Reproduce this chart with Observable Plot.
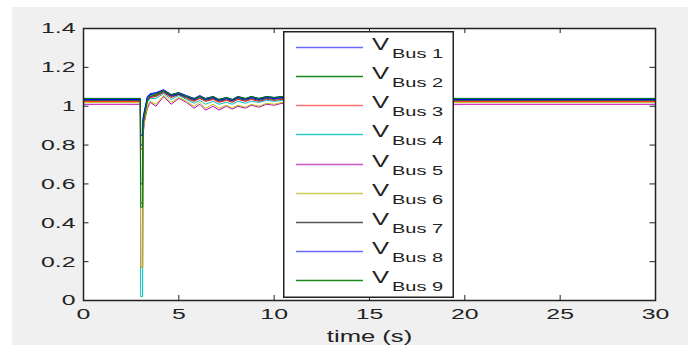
<!DOCTYPE html>
<html><head><meta charset="utf-8">
<script src="https://cdn.jsdelivr.net/npm/d3@7"></script>
<script src="https://cdn.jsdelivr.net/npm/@observablehq/plot@0.6"></script>
<style>
body{margin:0;background:#fff;}
#wrap{position:relative;width:688px;height:345px;overflow:hidden;}
#bg{position:absolute;left:12px;top:7px;right:0;bottom:0;background:#f0f0f0;}
#chart{position:absolute;left:0;top:0;}
#legend{position:absolute;left:283px;top:31px;}
</style></head><body>
<div id="wrap"><div id="bg"></div><div id="chart"></div><div id="legend"></div></div>
<script>
const buses = ["Bus 1","Bus 2","Bus 3","Bus 4","Bus 5","Bus 6","Bus 7","Bus 8","Bus 9"];
const colors = ["#0000ff","#008000","#ff0000","#00bfbf","#bf00bf","#bfbf00","#404040","#0000ff","#008000"];
const legendColors = ["#6a6aff","#1a8a1a","#ff7070","#2ccccc","#cc55cc","#cccc55","#555555","#6a6aff","#1a8a1a"];
const xTicks = [0,5,10,15,20,25,30];
const yTicks = [0,0.2,0.4,0.6,0.8,1,1.2,1.4];
const times = [0,2.98,3.0,3.1,3.12,3.2,3.35,3.5,3.8,4.2,4.6,5.0,5.4,5.8,6.1,6.4,6.8,7.1,7.5,7.8,8.1,8.5,8.8,9.2,9.6,10.0,10.4,11,12,30];
const bus1 = [1.04,1.04,0.80,0.80,0.93,0.97,1.05,1.065,1.07,1.085,1.06,1.07,1.055,1.04,1.055,1.04,1.05,1.035,1.045,1.035,1.05,1.04,1.05,1.04,1.05,1.045,1.05,1.04,1.04,1.04];
const bus2 = [1.035,1.035,0.50,0.50,0.90,0.96,1.03,1.05,1.06,1.075,1.055,1.065,1.05,1.035,1.05,1.035,1.045,1.03,1.04,1.03,1.045,1.035,1.045,1.035,1.045,1.04,1.045,1.035,1.035,1.035];
const bus3 = [1.025,1.025,0.78,0.78,0.92,0.96,1.03,1.045,1.05,1.07,1.045,1.06,1.04,1.025,1.04,1.025,1.035,1.02,1.03,1.02,1.035,1.025,1.035,1.025,1.035,1.03,1.035,1.025,1.025,1.025];
const bus4 = [1.03,1.03,0.02,0.02,0.88,0.94,1.02,1.04,1.04,1.065,1.035,1.055,1.035,1.015,1.03,1.01,1.025,1.01,1.02,1.01,1.025,1.015,1.025,1.02,1.03,1.025,1.03,1.03,1.03,1.03];
const bus5 = [1.01,1.01,0.17,0.17,0.85,0.92,0.99,1.02,1.0,1.05,1.01,1.04,1.02,0.99,1.01,0.98,1.0,0.98,1.0,0.985,1.0,0.99,1.005,0.995,1.01,1.005,1.015,1.01,1.01,1.01];
const bus6 = [1.02,1.02,0.17,0.17,0.86,0.93,1.0,1.025,1.01,1.055,1.02,1.045,1.025,1.0,1.02,0.99,1.01,0.99,1.005,0.99,1.005,0.995,1.01,1.0,1.015,1.01,1.02,1.02,1.02,1.02];
const bus7 = [1.03,1.03,0.60,0.60,0.90,0.95,1.03,1.05,1.055,1.075,1.05,1.06,1.045,1.03,1.045,1.03,1.04,1.025,1.035,1.025,1.04,1.03,1.04,1.03,1.04,1.035,1.04,1.03,1.03,1.03];
const bus8 = [1.035,1.035,0.85,0.85,0.94,0.98,1.045,1.06,1.065,1.08,1.055,1.065,1.05,1.035,1.05,1.035,1.045,1.03,1.04,1.03,1.045,1.035,1.045,1.035,1.045,1.04,1.045,1.035,1.035,1.035];
const bus9 = [1.04,1.04,0.48,0.48,0.91,0.96,1.035,1.055,1.065,1.08,1.06,1.07,1.05,1.04,1.05,1.04,1.05,1.035,1.045,1.035,1.05,1.04,1.05,1.04,1.05,1.045,1.05,1.04,1.04,1.04];
const series = [bus1,bus2,bus3,bus4,bus5,bus6,bus7,bus8,bus9];

const rows = [];
series.forEach((vals,i)=> times.forEach((t,j)=> rows.push({bus:buses[i], t, v:vals[j]})));

const STRETCH = 1.6;
const FONT = "'Liberation Sans', Arial, sans-serif";
const ink = "#222";

const chart = Plot.plot({
  width:688, height:345, marginLeft:83, marginRight:33, marginTop:28, marginBottom:45,
  style:{background:"transparent", fontFamily:FONT, fontSize:"15.5px", color:ink, overflow:"visible"},
  x:{domain:[0,30], ticks:xTicks, tickSize:0, tickPadding:7, label:null, tickFormat:d=>String(d)},
  y:{domain:[0,1.4], ticks:yTicks, tickSize:0, tickPadding:8, label:null, tickFormat:d=>String(d)},
  color:{domain:buses, range:colors},
  marks:[
    Plot.frame({fill:"white"}),
    Plot.line(rows,{x:"t", y:"v", z:"bus", stroke:"bus", strokeWidth:1, clip:true}),
    Plot.ruleX(xTicks,{x:d=>d, y1:0, y2:0.026, stroke:ink}),
    Plot.ruleX(xTicks,{x:d=>d, y1:1.4, y2:1.374, stroke:ink}),
    Plot.ruleY(yTicks,{y:d=>d, x1:0, x2:0.29, stroke:ink}),
    Plot.ruleY(yTicks,{y:d=>d, x1:30, x2:29.71, stroke:ink}),
    Plot.frame({stroke:ink, strokeWidth:1.5}),
    Plot.text(["time (s)"],{frameAnchor:"bottom", dy:41, text:d=>d, fontSize:16, fill:ink})
  ]
});
document.getElementById("chart").appendChild(chart);

// Legend overlay
const LW = 171, LH = 267;
const lg = d3.select("#legend").append("svg").attr("width",LW).attr("height",LH)
  .style("font-family",FONT);
lg.append("rect").attr("x",0.75).attr("y",0.75).attr("width",LW-1.5).attr("height",LH-1.5)
  .attr("fill","white").attr("stroke",ink).attr("stroke-width",1.5);
buses.forEach((b,i)=>{
  const ly = Math.round(15.7 + i*29.2) + 0.5;
  lg.append("line").attr("x1",13).attr("x2",80).attr("y1",ly).attr("y2",ly)
    .attr("stroke",legendColors[i]).attr("stroke-width",1.5);
  lg.append("text").attr("x",89).attr("y",ly+2.8).attr("font-size",16).attr("fill",ink).text("V");
  lg.append("text").attr("x",109).attr("y",ly+10.3).attr("font-size",12.5).attr("fill",ink).text(b);
});

// horizontal stretch of text, as in the reference
document.querySelectorAll("#wrap svg text").forEach(t=>{
  const len = t.getComputedTextLength();
  if (len > 0) {
    t.setAttribute("textLength", (len*STRETCH).toFixed(2));
    t.setAttribute("lengthAdjust","spacingAndGlyphs");
  }
});
</script>
</body></html>
